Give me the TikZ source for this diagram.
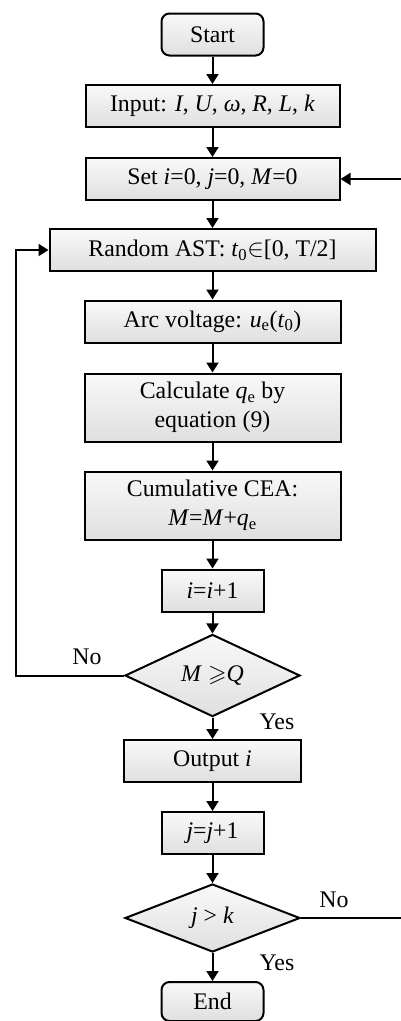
\documentclass[tikz,border=0pt]{standalone}
\usepackage{fontspec}
\usepackage{amssymb}
\setmainfont{Liberation Serif}
\usetikzlibrary{arrows.meta,shapes.geometric}
\begin{document}
\begin{tikzpicture}[x=1pt,y=-1pt,
  every node/.style={font=\fontsize{23.8}{29}\selectfont},
  boxstyle/.style={draw,line width=2pt,top color=gray!5,bottom color=gray!25,
     minimum width=#1,inner sep=0pt,align=center},
  pbox/.style={boxstyle=#1,minimum height=42pt},
  tbox/.style={boxstyle=#1,minimum height=68pt},
  term/.style={boxstyle=102pt,minimum height=42pt,rounded corners=8pt},
  dec/.style={draw,line width=2pt,diamond,top color=gray!5,bottom color=gray!25,
     minimum width=175pt,minimum height=67pt,inner sep=0pt},
  arr/.style={line width=2pt,-{Triangle[length=10pt,width=12pt]}},
  lbl/.style={inner sep=0pt}]
\useasboundingbox (0,0) rectangle (401,1021);
\node[term] (start) at (212.5,34.5) {Start};
\node[pbox=254pt] (input) at (212.5,106) {Input: \textit{I}, \textit{U}, \textit{ω}, \textit{R}, \textit{L}, \textit{k}};
\node[pbox=254pt] (set) at (212.5,179) {Set \textit{i}=0, \textit{j}=0, \textit{M}=0};
\node[pbox=326pt] (rand) at (212.5,250) {Random AST: \textit{t}\textsubscript{0}$\in$[0, T/2]};
\node[pbox=256pt] (arc) at (212.5,321.5) {Arc voltage: \textit{u}\textsubscript{e}(\textit{t}\textsubscript{0})};
\node[tbox=256pt] (calc) at (212.5,407.5) {Calculate \textit{q}\textsubscript{e} by\\equation (9)};
\node[tbox=256pt] (cum) at (212.5,505.5) {Cumulative CEA:\\\textit{M}=\textit{M}+\textit{q}\textsubscript{e}};
\node[pbox=102pt] (inci) at (212.5,590.5) {\textit{i}=\textit{i}+1};
\node[dec] (d1) at (212.5,675.5) {\textit{M} $\geqslant$\textit{Q}};
\node[pbox=177pt] (out) at (212.5,761) {Output \textit{i}};
\node[pbox=102pt] (incj) at (212.5,833) {\textit{j}=\textit{j}+1};
\node[dec,minimum height=68pt] (d2) at (212.5,918) {\textit{j} > \textit{k}};
\node[term,minimum height=39pt] (end) at (212.5,1001.5) {End};
\coordinate (lc) at (16,0);
\coordinate (rc) at (404,0);
\draw[arr] (start) -- (input);
\draw[arr] (input) -- (set);
\draw[arr] (set) -- (rand);
\draw[arr] (rand) -- (arc);
\draw[arr] (arc) -- (calc);
\draw[arr] (calc) -- (cum);
\draw[arr] (cum) -- (inci);
\draw[arr] (inci) -- (d1);
\draw[arr] (d1) -- (out);
\draw[arr] (out) -- (incj);
\draw[arr] (incj) -- (d2);
\draw[arr] (d2) -- (end);
\draw[arr] (d1.west) -- (d1.west -| lc) |- (rand.west);
\draw[arr] (d2.east) -- (d2.east -| rc) |- (set.east);
\node[lbl] (no1) at (87,657) {No};
\node[lbl] (yes1) at (277,722) {Yes};
\node[lbl] (no2) at (334,900) {No};
\node[lbl] (yes2) at (277,963) {Yes};
\end{tikzpicture}
\end{document}
